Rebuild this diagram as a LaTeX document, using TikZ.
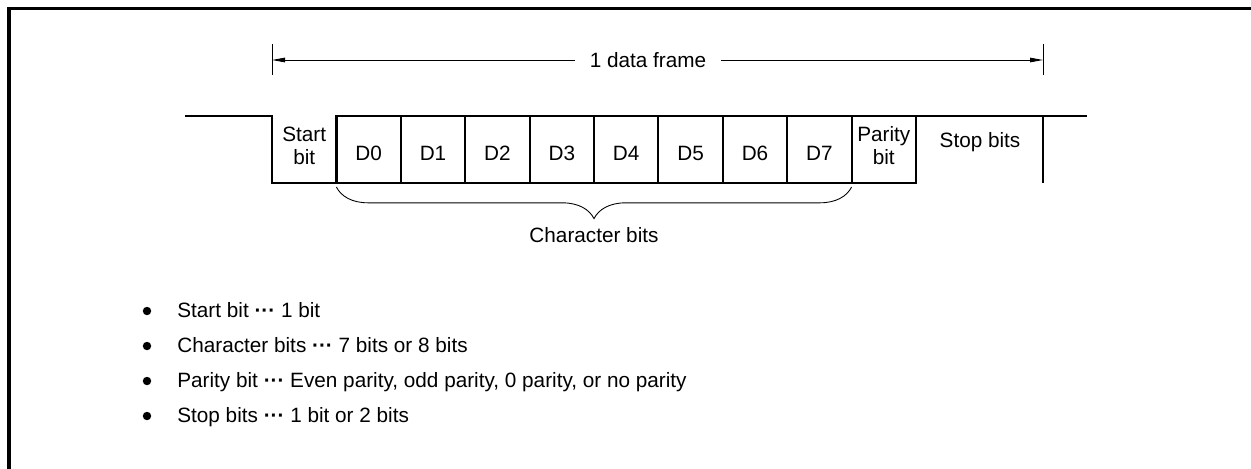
\documentclass[tikz,border=0pt]{standalone}
\usepackage{fontspec}
\setmainfont{Liberation Sans}
\usetikzlibrary{arrows.meta, decorations.pathreplacing, positioning}

\newcommand{\tridot}{{\bfseries\textperiodcentered\textperiodcentered\textperiodcentered}}

\begin{document}
\begin{tikzpicture}[
  x=0.02cm, y=-0.02cm,
  font=\fontsize{11.8pt}{13.1pt}\selectfont,
  frameline/.style={line width=1.8pt},
  signal/.style={line width=1.4pt},
  divider/.style={line width=1.1pt},
  dimline/.style={line width=0.5pt, -{Triangle[length=7.4pt, width=2.6pt]}},
  tickline/.style={line width=0.5pt},
  bitlabel/.style={align=center, inner sep=0pt},
  bulletdot/.style={circle, fill, inner sep=0pt, minimum size=4.8pt},
  itemtext/.style={inner sep=0pt, anchor=base west}
]
\useasboundingbox (0,0) rectangle (1251,468);

%% outer frame, only the top and left edges show
\draw[frameline] (9,480) |- (1260,8.5);

%% data frame dimension
\coordinate (fl) at (272,60);
\coordinate (fr) at (1043,60);
\draw[tickline] (fl) ++(0,-16) -- ++(0,31);
\draw[tickline] (fr) ++(0,-16) -- ++(0,31);
\node[inner xsep=8.5pt, inner ysep=0pt] (framelbl) at (648,60) {1 data frame};
\draw[dimline] (framelbl.west) -- (fl);
\draw[dimline] (framelbl.east) -- (fr);

%% waveform
\draw[signal] (185,116) -- (272,116) -- (272,183) -- (916,183) -- (916,116);
\draw[signal] (336.4,183) -- (336.4,116) -- (1087,116);
\draw[signal] (1043,116) -- (1043,183);
\foreach \i in {2,...,9}
  \draw[divider] ({272+\i*64.4},116) -- ({272+\i*64.4},183);

\node[bitlabel] (start) at (304.2,146) {Start\\bit};
\foreach \i in {0,...,7}
  \node[bitlabel] (d\i) at ({368.6+\i*64.4},153) {D\i};
\node[bitlabel] (parity) at (883.8,146) {Parity\\bit};
\node[bitlabel, anchor=base] (stop) at (980,147) {Stop bits};

%% character bits brace
\coordinate (bl) at (336.4,187);
\coordinate (br) at (851.6,187);
\draw[decorate, decoration={brace, mirror, amplitude=18pt}, line width=0.5pt]
  (bl) -- (br);
\node (charbits) at (594,235) {Character bits};

%% notes
\foreach \txt [count=\k] in {Start bit \tridot{} 1 bit,
    Character bits \tridot{} 7 bits or 8 bits,
    {Parity bit \tridot{} Even parity, odd parity, 0 parity, or no parity},
    Stop bits \tridot{} 1 bit or 2 bits}
{
  \node[bulletdot] (dot\k) at (147,{276+\k*35}) {};
  \node[itemtext] (item\k) at (177,{282.5+\k*35}) {\txt};
}

\end{tikzpicture}
\end{document}
